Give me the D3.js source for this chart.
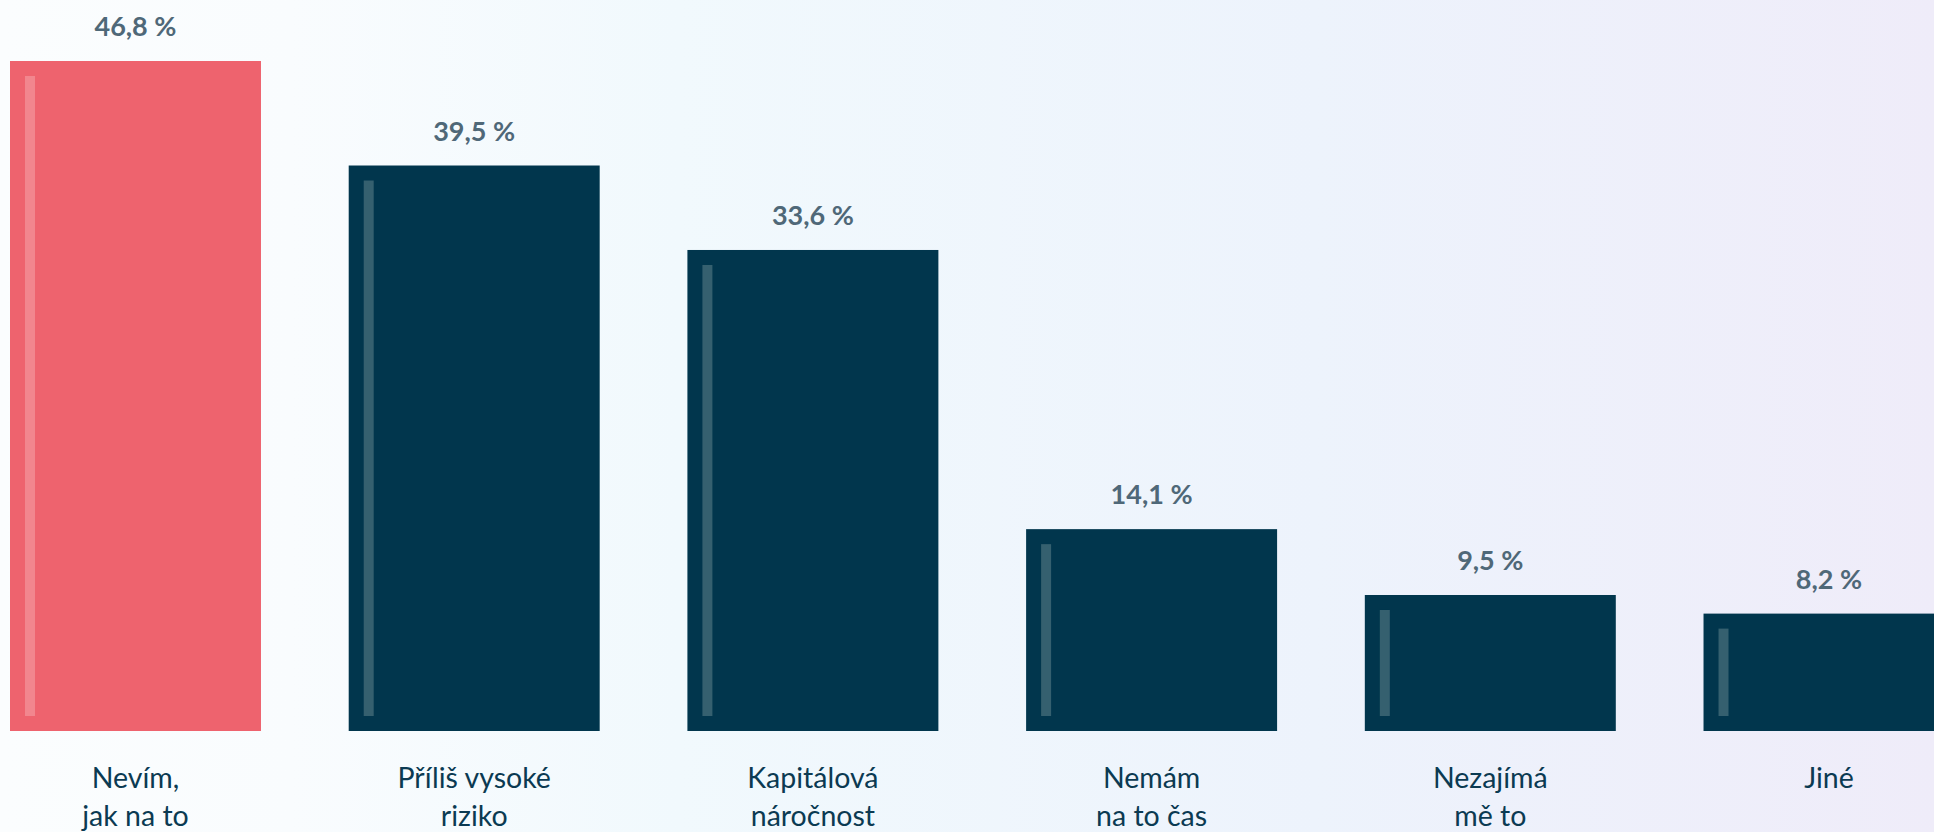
<!DOCTYPE html>
<html>
<head>
<meta charset="utf-8">
<script src="https://cdn.jsdelivr.net/npm/d3@7"></script>
<style>
  html, body { margin: 0; padding: 0; overflow: hidden; }
  svg { display: block; }
</style>
</head>
<body>
<svg id="chart" width="1934" height="832"></svg>
<script>
// Důvody, proč lidé neinvestují (podíl odpovědí v %)
const categories = [
  ["Nevím,", "jak na to"],
  ["Příliš vysoké", "riziko"],
  ["Kapitálová", "náročnost"],
  ["Nemám", "na to čas"],
  ["Nezajímá", "mě to"],
  ["Jiné"]
];
const values = [46.8, 39.5, 33.6, 14.1, 9.5, 8.2];
const valueLabels = ["46,8 %", "39,5 %", "33,6 %", "14,1 %", "9,5 %", "8,2 %"];
const highlighted = [true, false, false, false, false, false];

const W = 1934, H = 832;
const svg = d3.select("#chart");

// background wash
const defs = svg.append("defs");
const grad = defs.append("linearGradient").attr("id", "bg")
  .attr("x1", "0%").attr("x2", "100%").attr("y1", "0%").attr("y2", "0%");
grad.append("stop").attr("offset", "0%").attr("stop-color", "#fbfdfe");
grad.append("stop").attr("offset", "15%").attr("stop-color", "#f9fcfe");
grad.append("stop").attr("offset", "35%").attr("stop-color", "#f1f9fd");
grad.append("stop").attr("offset", "68%").attr("stop-color", "#edf3fc");
grad.append("stop").attr("offset", "100%").attr("stop-color", "#efecf9");
svg.append("rect").attr("width", W).attr("height", H).attr("fill", "url(#bg)");

const idx = d3.range(values.length);
const x = d3.scaleBand().domain(idx).range([10, 1954.5]).paddingInner(0.259).paddingOuter(0);
const y = d3.scaleLinear().domain([0, 46.8]).range([731, 61]);

const g = svg.append("g");
const bar = g.selectAll("g.bar").data(idx).join("g").attr("class", "bar");

bar.append("rect")
  .attr("x", i => x(i))
  .attr("y", i => y(values[i]))
  .attr("width", x.bandwidth())
  .attr("height", i => y(0) - y(values[i]))
  .attr("fill", i => highlighted[i] ? "#ee636e" : "#01364d");

// light inner stripe
bar.append("rect")
  .attr("x", i => x(i) + 15)
  .attr("y", i => y(values[i]) + 15)
  .attr("width", 10)
  .attr("height", i => Math.max(0, y(0) - y(values[i]) - 30))
  .attr("fill", i => highlighted[i] ? "#f2868e" : "#35606f");

bar.append("text")
  .attr("x", i => x(i) + x.bandwidth() / 2)
  .attr("y", i => y(values[i]) - 25)
  .attr("text-anchor", "middle")
  .attr("font-family", "Lato, sans-serif")
  .attr("font-weight", 700)
  .attr("font-size", 27)
  .attr("fill", "#4f6878")
  .text(i => valueLabels[i]);

const lab = bar.append("text")
  .attr("text-anchor", "middle")
  .attr("font-family", "Lato, sans-serif")
  .attr("font-weight", 400)
  .attr("font-size", 28.5)
  .attr("fill", "#0b3a52");
lab.selectAll("tspan").data(i => categories[i].map(t => ({ t, i }))).join("tspan")
  .attr("x", d => x(d.i) + x.bandwidth() / 2)
  .attr("y", (d, k) => 788 + k * 38)
  .text(d => d.t);
</script>
</body>
</html>
